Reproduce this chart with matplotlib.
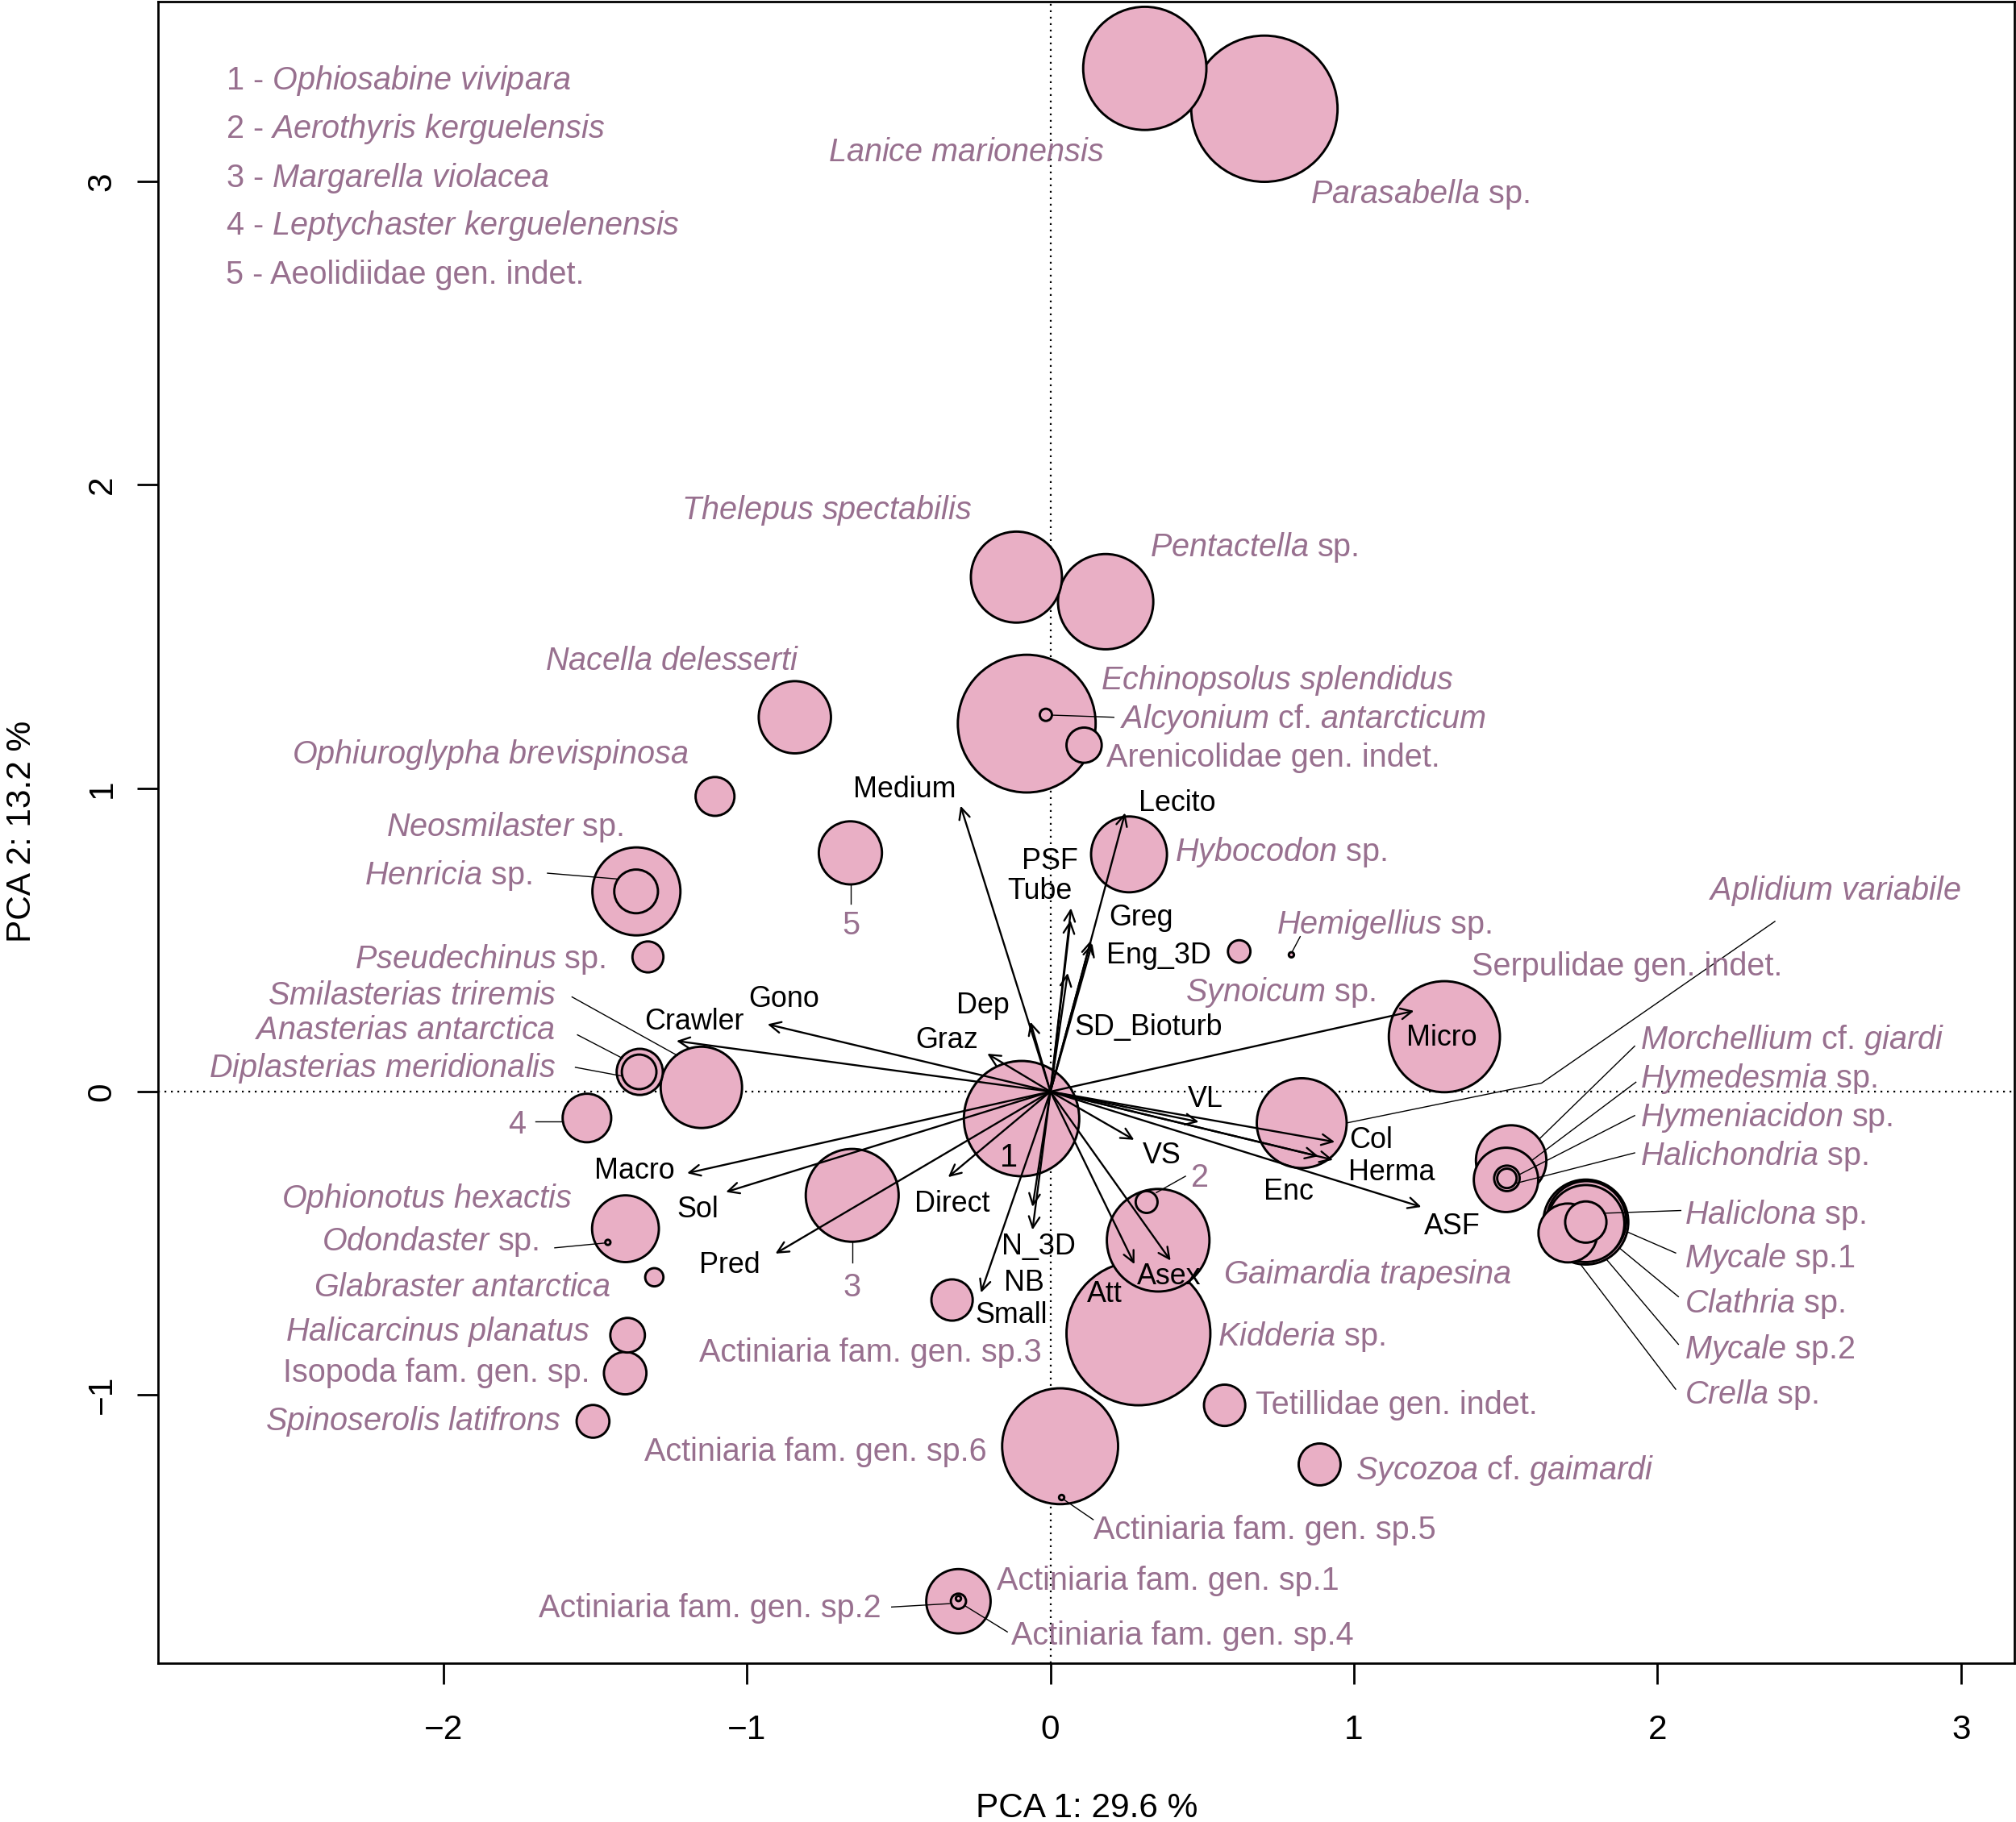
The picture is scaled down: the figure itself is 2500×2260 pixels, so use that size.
import matplotlib
matplotlib.use('Agg')
import matplotlib.pyplot as plt
from matplotlib.patches import Circle, FancyArrowPatch

plt.rcParams['font.family'] = ['Liberation Sans', 'DejaVu Sans']
plt.rcParams['mathtext.fontset'] = 'custom'
plt.rcParams['mathtext.rm'] = 'Liberation Sans'
plt.rcParams['mathtext.it'] = 'Liberation Sans:italic'

LAB_COL = '#98708F'
FILL_COL = '#E9AFC5'
TXT_SHIFT = -0.010  # small nudge so text sits like the R output

# species scores on PCA axes, bubble radius in axis units
species = [
    "*Lanice marionensis*", "*Parasabella* sp.", "*Thelepus spectabilis*",
    "*Pentactella* sp.", "*Echinopsolus splendidus*", "*Alcyonium* cf. *antarcticum*",
    "Arenicolidae gen. indet.", "*Nacella delesserti*", "*Ophiuroglypha brevispinosa*",
    "*Neosmilaster* sp.", "*Henricia* sp.", "5",
    "*Pseudechinus* sp.", "*Smilasterias triremis*", "*Anasterias antarctica*",
    "*Diplasterias meridionalis*", "4", "*Ophionotus hexactis*",
    "*Odondaster* sp.", "*Glabraster antarctica*", "*Halicarcinus planatus*",
    "Isopoda fam. gen. sp.", "*Spinoserolis latifrons*", "1",
    "3", "2", "*Gaimardia trapesina*",
    "*Kidderia* sp.", "Actiniaria fam. gen. sp.3", "Tetillidae gen. indet.",
    "Actiniaria fam. gen. sp.6", "Actiniaria fam. gen. sp.5", "*Sycozoa* cf. *gaimardi*",
    "Actiniaria fam. gen. sp.1", "Actiniaria fam. gen. sp.2", "Actiniaria fam. gen. sp.4",
    "*Hybocodon* sp.", "*Synoicum* sp.", "*Hemigellius* sp.",
    "Serpulidae gen. indet.", "*Aplidium variabile*", "*Morchellium* cf. *giardi*",
    "*Hymedesmia* sp.", "*Hymeniacidon* sp.", "*Halichondria* sp.",
    "*Haliclona* sp.", "*Mycale* sp.1", "*Clathria* sp.",
    "*Mycale* sp.2", "*Crella* sp.",
]
pc1 = [0.311, 0.705, -0.112, 0.182, -0.078, -0.015, 0.111, -0.842, -1.105,
       -1.364, -1.365, -0.659, -1.326, -1.150, -1.353, -1.355, -1.527, -1.400,
       -1.458, -1.305, -1.393, -1.401, -1.507, -0.095, -0.653, 0.317, 0.355,
       0.290, -0.324, 0.574, 0.032, 0.037, 0.887, -0.303, -0.303, -0.303,
       0.259, 0.622, 0.794, 1.298, 0.828, 1.518, 1.501, 1.504, 1.504,
       1.764, 1.764, 1.766, 1.764, 1.705]
pc2 = [3.373, 3.240, 1.696, 1.615, 1.213, 1.242, 1.142, 1.234, 0.973,
       0.660, 0.660, 0.787, 0.444, 0.014, 0.065, 0.065, -0.087, -0.452,
       -0.497, -0.612, -0.803, -0.928, -1.087, -0.089, -0.342, -0.364, -0.490,
       -0.797, -0.687, -1.034, -1.169, -1.338, -1.229, -1.680, -1.680, -1.671,
       0.782, 0.462, 0.451, 0.181, -0.104, -0.227, -0.291, -0.286, -0.286,
       -0.430, -0.430, -0.426, -0.435, -0.466]
radius = [0.203, 0.241, 0.150, 0.157, 0.227, 0.020, 0.058, 0.119, 0.064,
          0.145, 0.072, 0.104, 0.051, 0.134, 0.076, 0.057, 0.080, 0.110,
          0.0085, 0.030, 0.057, 0.070, 0.054, 0.190, 0.153, 0.036, 0.169,
          0.237, 0.068, 0.068, 0.191, 0.0085, 0.069, 0.106, 0.025, 0.0085,
          0.125, 0.037, 0.0085, 0.183, 0.148, 0.116, 0.106, 0.042, 0.032,
          0.068, 0.140, 0.131, 0.127, 0.097]

# label placement
lab_x = [0.178, 0.856, -0.259, 0.328, 0.167, 0.230, 0.184, -0.827, -1.191,
         -1.408, -1.708, -0.657, -1.465, -1.629, -1.632, -1.629, -1.757, -1.576,
         -1.684, -1.449, -1.517, -1.517, -1.612, -0.136, -0.654, 0.492, 0.570,
         0.551, -0.028, 0.677, -0.211, 0.141, 1.006, -0.177, -0.557, -0.130,
         0.409, 0.444, 0.746, 1.387, 2.170, 1.942, 1.942, 1.942, 1.942,
         2.090, 2.090, 2.090, 2.090, 2.090]
lab_y = [3.105, 2.969, 1.926, 1.804, 1.366, 1.238, 1.109, 1.429, 1.120,
         0.883, 0.723, 0.557, 0.447, 0.325, 0.212, 0.086, -0.100, -0.343,
         -0.485, -0.637, -0.782, -0.917, -1.078, -0.208, -0.637, -0.273, -0.593,
         -0.799, -0.850, -1.023, -1.179, -1.437, -1.239, -1.604, -1.694, -1.783,
         0.800, 0.338, 0.560, 0.422, 0.671, 0.180, 0.053, -0.075, -0.202,
         -0.396, -0.540, -0.689, -0.841, -0.990]
lab_ha = ['right', 'left', 'right', 'left', 'left', 'left', 'left', 'right', 'right',
          'right', 'right', 'center', 'right', 'right', 'right', 'right', 'center', 'right',
          'right', 'right', 'right', 'right', 'right', 'center', 'center', 'center', 'left',
          'left', 'right', 'left', 'right', 'left', 'left', 'left', 'right', 'left',
          'left', 'left', 'left', 'left', 'left', 'left', 'left', 'left', 'left',
          'left', 'left', 'left', 'left', 'left']

leaders = [
    [(0.005, 1.241), (0.209, 1.234)],
    [(-1.657, 0.720), (-1.428, 0.701)],
    [(-0.659, 0.683), (-0.659, 0.619)],
    [(-1.576, 0.312), (-1.229, 0.119)],
    [(-1.558, 0.187), (-1.410, 0.110)],
    [(-1.565, 0.080), (-1.410, 0.051)],
    [(-1.696, -0.097), (-1.607, -0.097)],
    [(-1.633, -0.515), (-1.466, -0.499)],
    [(-0.653, -0.495), (-0.653, -0.563)],
    [(0.349, -0.333), (0.445, -0.279)],
    [(0.043, -1.344), (0.141, -1.411)],
    [(-0.523, -1.699), (-0.333, -1.688)],
    [(-0.283, -1.694), (-0.142, -1.781)],
    [(0.796, 0.460), (0.823, 0.511)],
    [(0.978, -0.103), (1.618, 0.028), (2.387, 0.561)],
    [(1.925, 0.150), (1.612, -0.155)],
    [(1.929, 0.031), (1.586, -0.227)],
    [(1.925, -0.079), (1.544, -0.274)],
    [(1.925, -0.202), (1.531, -0.303)],
    [(2.077, -0.392), (1.823, -0.401)],
    [(2.060, -0.532), (1.904, -0.464)],
    [(2.069, -0.676), (1.874, -0.515)],
    [(2.069, -0.833), (1.832, -0.553)],
    [(2.060, -0.981), (1.747, -0.570)],
]

# trait loadings (arrows) and their label positions
traits = ['Medium', 'Lecito', 'PSF', 'Tube', 'Greg', 'Eng_3D', 'SD_Bioturb',
          'Dep', 'Graz', 'Gono', 'Crawler', 'Macro', 'Sol', 'Pred', 'Direct',
          'N_3D', 'NB', 'Small', 'Att', 'Asex', 'VS', 'VL', 'Col', 'Herma',
          'Enc', 'ASF', 'Micro']
load_x = [-0.296, 0.246, 0.068, 0.066, 0.133, 0.138, 0.057, -0.066, -0.208,
          -0.932, -1.232, -1.197, -1.069, -0.906, -0.337, -0.059, -0.059, -0.229,
          0.277, 0.396, 0.276, 0.489, 0.937, 0.931, 0.883, 1.222, 1.198]
load_y = [0.942, 0.919, 0.605, 0.565, 0.498, 0.489, 0.391, 0.230, 0.125,
          0.222, 0.167, -0.269, -0.331, -0.534, -0.282, -0.380, -0.456, -0.663,
          -0.569, -0.557, -0.159, -0.100, -0.166, -0.225, -0.213, -0.380, 0.266]
trait_lx = [-0.481, 0.417, -0.002, -0.036, 0.299, 0.358, 0.324, -0.222, -0.341,
            -0.879, -1.175, -1.370, -1.163, -1.057, -0.324, -0.040, -0.087, -0.129,
            0.180, 0.392, 0.366, 0.510, 1.057, 1.124, 0.786, 1.324, 1.290]
trait_ly = [1.005, 0.959, 0.768, 0.671, 0.582, 0.459, 0.222, 0.294, 0.180,
            0.315, 0.239, -0.252, -0.380, -0.562, -0.362, -0.502, -0.621, -0.727,
            -0.659, -0.600, -0.202, -0.015, -0.151, -0.257, -0.320, -0.435, 0.188]

legend_lines = ["1 - *Ophiosabine vivipara*", "2 - *Aerothyris kerguelensis*",
                "3 - *Margarella violacea*", "4 - *Leptychaster kerguelenensis*",
                "5 - Aeolidiidae gen. indet."]
legend_y = [3.343, 3.182, 3.021, 2.864, 2.703]


def fmt(s):
    parts = s.split('*')
    out = ''
    for i, p in enumerate(parts):
        if i % 2 == 1:
            out += r'$\mathit{' + p.replace(' ', r'\ ') + '}$'
        else:
            out += p
    return out


fig = plt.figure(figsize=(25, 22.6), dpi=100)
ax = fig.add_axes([0.0784, 0.0872, 0.9208, 0.9119])
ax.set_xlim(-2.94, 3.176)
ax.set_ylim(-1.884, 3.593)

ax.axhline(0, color='black', lw=1.6, ls=(0, (1, 2.6)), zorder=1)
ax.axvline(0, color='black', lw=1.6, ls=(0, (1, 2.6)), zorder=1)

# bigger bubbles first so nested ones stay visible
order = sorted(range(len(species)), key=lambda i: -radius[i])
for i in order:
    ax.add_patch(Circle((pc1[i], pc2[i]), radius[i], facecolor=FILL_COL,
                        edgecolor='black', lw=2.1, zorder=2))

for pts in leaders:
    xs = [p[0] for p in pts]
    ys = [p[1] for p in pts]
    ax.plot(xs, ys, color='black', lw=1.0, zorder=3)

for i, name in enumerate(species):
    col = 'black' if name == '1' else LAB_COL
    ax.text(lab_x[i], lab_y[i] + TXT_SHIFT, fmt(name), ha=lab_ha[i], va='center',
            fontsize=28.5, color=col, zorder=5)

for t, x, y, lx, ly in zip(traits, load_x, load_y, trait_lx, trait_ly):
    ax.add_patch(FancyArrowPatch((0, 0), (x, y),
                                 arrowstyle='->,head_length=0.45,head_width=0.22',
                                 mutation_scale=22, lw=1.7, color='black',
                                 shrinkA=0, shrinkB=0, zorder=4))
    ax.text(lx, ly + TXT_SHIFT, t, ha='center', va='center', fontsize=25.8,
            color='black', zorder=5)

for txt, y in zip(legend_lines, legend_y):
    ax.text(-2.717, y + TXT_SHIFT, fmt(txt), ha='left', va='center', fontsize=28.5,
            color=LAB_COL, zorder=5)

ax.set_xticks([-2, -1, 0, 1, 2, 3])
ax.set_yticks([-1, 0, 1, 2, 3])
ax.tick_params(axis='both', length=18.5, width=2.0, labelsize=30.5)
ax.tick_params(axis='x', pad=27)
ax.tick_params(axis='y', pad=17, labelrotation=90)
for t in ax.get_yticklabels():
    t.set_va('center')
for s in ax.spines.values():
    s.set_linewidth(2.0)

fig.text(0.539, 0.0075, 'PCA 1: 29.6 %', ha='center', va='center', fontsize=30.5)
fig.text(0.0108, 0.5438, 'PCA 2: 13.2 %', ha='center', va='center',
         fontsize=30.5, rotation=90)

fig.savefig('out.png', dpi=100)
